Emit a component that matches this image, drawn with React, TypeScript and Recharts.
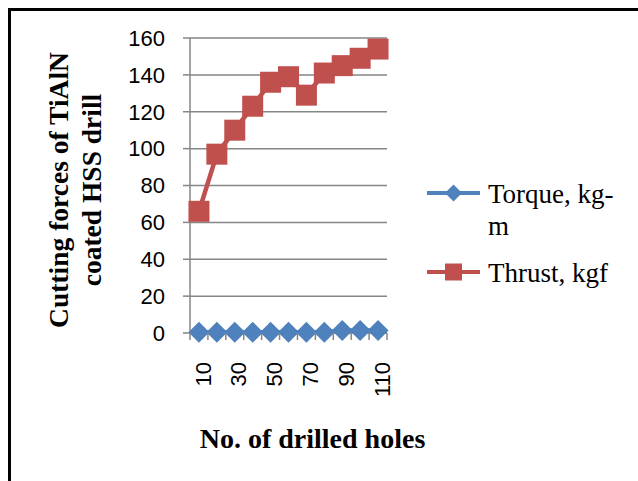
import React from "react";
import { LineChart, Line, XAxis, YAxis, CartesianGrid, Legend } from "recharts";

const holes = [10, 20, 30, 40, 50, 60, 70, 80, 90, 100, 110];
const torque = [0.4, 0.4, 0.4, 0.4, 0.4, 0.4, 0.4, 0.4, 1.3, 1.4, 1.3];
const thrust = [66, 97, 110, 123, 136, 139, 129, 141, 145, 149, 154];
const yTicks = [0, 20, 40, 60, 80, 100, 120, 140, 160];

const seriesNames = ["Torque, kg-m", "Thrust, kgf"];
const xTitle = "No. of drilled holes";
const yTitleLines = ["Cutting forces of TiAlN", "coated HSS drill"];

const data = holes.map((h, i) => ({ holes: h, torque: torque[i], thrust: thrust[i] }));

const BLUE = "#4F81BD";
const RED = "#C0504D";
const GRID = "#868686";

const SquareDot = (props: any) => {
  const { cx, cy, index } = props;
  if (cx == null || cy == null) return <g key={`s${index}`} />;
  return <rect key={`s${index}`} x={cx - 10.5} y={cy - 10.5} width={21} height={21} fill={RED} />;
};

const DiamondDot = (props: any) => {
  const { cx, cy, index } = props;
  if (cx == null || cy == null) return <g key={`d${index}`} />;
  const r = 10.5;
  return (
    <polygon
      key={`d${index}`}
      points={`${cx},${cy - r} ${cx + r},${cy} ${cx},${cy + r} ${cx - r},${cy}`}
      fill={BLUE}
    />
  );
};

const TICK_SIZE = 7;
const TICK_MARGIN = 22;
const HALF_BAND = 197 / holes.length / 2;

const XTick = (props: any) => {
  const { x, y, payload, index, visibleTicksCount } = props;
  const count = visibleTicksCount || holes.length;
  const axisY = y - TICK_SIZE - TICK_MARGIN;
  return (
    <g>
      <line x1={x - HALF_BAND} x2={x - HALF_BAND} y1={axisY} y2={axisY + TICK_SIZE} stroke={GRID} strokeWidth={1.5} />
      {index === count - 1 && (
        <line x1={x + HALF_BAND} x2={x + HALF_BAND} y1={axisY} y2={axisY + TICK_SIZE} stroke={GRID} strokeWidth={1.5} />
      )}
      {index % 2 === 0 && (
        <text
          x={x + 4}
          y={y}
          transform={`rotate(-90, ${x + 4}, ${y})`}
          textAnchor="end"
          dy="0.35em"
          fontSize={22}
          fontFamily="'Liberation Sans', Arial, sans-serif"
          fill="#000"
        >
          {payload.value}
        </text>
      )}
    </g>
  );
};

const LegendContent = (props: any) => {
  const { payload } = props;
  const items = (payload || []).filter((p: any) => p.dataKey === "torque" || p.dataKey === "thrust");
  items.sort((a: any, b: any) => (a.dataKey === "torque" ? -1 : 1));
  return (
    <div style={{ fontFamily: "'Liberation Serif', 'Times New Roman', serif", fontSize: 27, lineHeight: "32px", color: "#000", textAlign: "left" }}>
      {items.map((it: any, i: number) => (
        <div key={i} style={{ display: "flex", alignItems: "flex-start", marginBottom: 15 }}>
          <svg width={68} height={32} style={{ flex: "none" }}>
            <line x1={7} x2={60} y1={15} y2={15} stroke={it.color} strokeWidth={4} />
            {it.dataKey === "torque" ? (
              <polygon points="33.5,6.5 42,15 33.5,23.5 25,15" fill={BLUE} />
            ) : (
              <rect x={25} y={6.5} width={17} height={17} fill={RED} />
            )}
          </svg>
          <div style={{ width: 135 }}>{it.value}</div>
        </div>
      ))}
    </div>
  );
};

export default function App() {
  return (
    <div style={{ position: "absolute", left: 0, top: 0, width: 638, height: 481, background: "#fff" }}>
      <div
        style={{
          position: "absolute",
          left: 8,
          top: 8,
          width: 630,
          height: 473,
          borderLeft: "3px solid #000",
          borderTop: "3px solid #000",
          boxSizing: "border-box",
        }}
      />
      <div style={{ position: "absolute", left: 0, top: 0 }}>
        <LineChart width={638} height={481} data={data} margin={{ top: 38, right: 251, bottom: 0, left: 0 }}>
          <CartesianGrid vertical={false} stroke={GRID} strokeWidth={1.5} />
          <XAxis
            dataKey="holes"
            interval={0}
            tickLine={false}
            axisLine={{ stroke: GRID, strokeWidth: 1.5 }}
            height={148}
            tickSize={TICK_SIZE}
            tickMargin={TICK_MARGIN}
            padding={{ left: HALF_BAND, right: HALF_BAND }}
            tick={<XTick />}
          />
          <YAxis
            domain={[0, 160]}
            ticks={yTicks}
            interval={0}
            width={190}
            tickSize={7}
            tickMargin={18}
            axisLine={{ stroke: GRID, strokeWidth: 1.5 }}
            tickLine={{ stroke: GRID, strokeWidth: 1.5 }}
            tick={{ fontSize: 22, fill: "#000", fontFamily: "'Liberation Sans', Arial, sans-serif" }}
          />
          <Line
            type="linear"
            dataKey="torque"
            name={seriesNames[0]}
            stroke={BLUE}
            strokeWidth={4.5}
            dot={DiamondDot}
            activeDot={false}
            isAnimationActive={false}
          />
          <Line
            type="linear"
            dataKey="thrust"
            name={seriesNames[1]}
            stroke={RED}
            strokeWidth={4.5}
            dot={SquareDot}
            activeDot={false}
            isAnimationActive={false}
          />
          <Legend
            layout="horizontal"
            verticalAlign="middle"
            align="center"
            content={<LegendContent />}
            wrapperStyle={{ position: "absolute", left: 420, top: 178, width: 218 }}
          />
          <text
            x={312.5}
            y={448}
            textAnchor="middle"
            fontSize={28}
            fontWeight="bold"
            fontFamily="'Liberation Serif', 'Times New Roman', serif"
            fill="#000"
          >
            {xTitle}
          </text>
          <text
            x={68}
            y={190}
            transform="rotate(-90, 68, 190)"
            textAnchor="middle"
            fontSize={27.5}
            fontWeight="bold"
            fontFamily="'Liberation Serif', 'Times New Roman', serif"
            fill="#000"
          >
            {yTitleLines[0]}
          </text>
          <text
            x={101}
            y={190}
            transform="rotate(-90, 101, 190)"
            textAnchor="middle"
            fontSize={27.5}
            fontWeight="bold"
            fontFamily="'Liberation Serif', 'Times New Roman', serif"
            fill="#000"
          >
            {yTitleLines[1]}
          </text>
        </LineChart>
      </div>
    </div>
  );
}
